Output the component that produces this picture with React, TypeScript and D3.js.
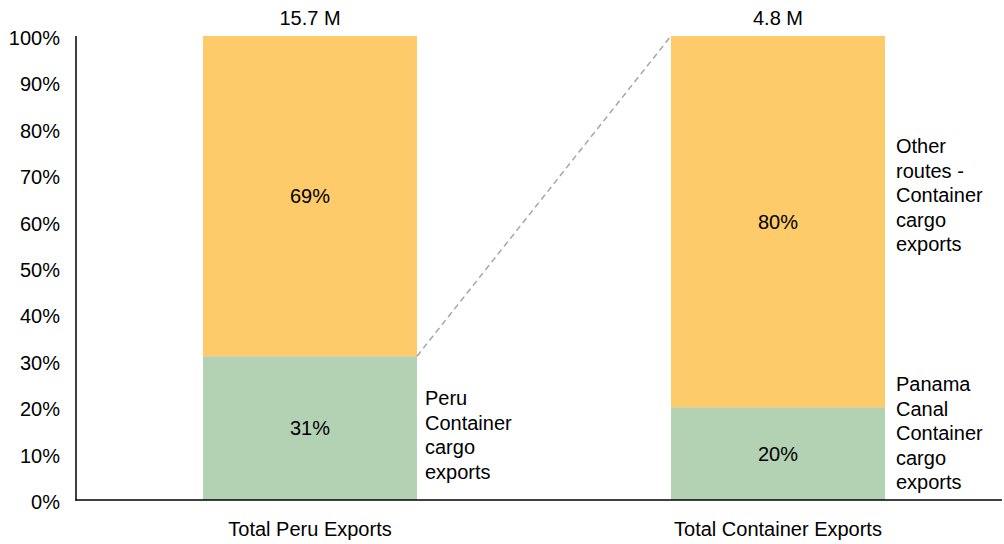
import React from "react";
import * as d3 from "d3";

const categories = ["Total Peru Exports", "Total Container Exports"];
const totals = ["15.7 M", "4.8 M"];
const lowerValues = [31, 20];
const upperValues = [69, 80];
const yTicks = [0, 10, 20, 30, 40, 50, 60, 70, 80, 90, 100];
const lowerLabels = [["Peru", "Container", "cargo", "exports"], ["Panama", "Canal", "Container", "cargo", "exports"]];
const upperLabels = [[], ["Other", "routes -", "Container", "cargo", "exports"]];

const W = 1004, H = 544;
const FONT = "'Liberation Sans', Arial, sans-serif";
const ORANGE = "#FECB6A";
const GREEN = "#B3D1B3";
const FS = 20;

export default function App() {
  const x = d3.scaleBand<string>().domain(categories).range([76, 1012]).paddingInner(0.5427).paddingOuter(0.27135);
  const y = d3.scaleLinear().domain([0, 100]).range([500, 36]);
  const bw = x.bandwidth();
  const lh = 24.5;
  return (
    <svg width={W} height={H} style={{ position: "absolute", left: 0, top: 0, fontFamily: FONT }}>
      {categories.map((c, i) => {
        const x0 = x(c)!;
        const cx = x0 + bw / 2;
        const lo = lowerValues[i];
        const up = upperValues[i];
        return (
          <g key={c}>
            <rect x={x0} y={y(lo)} width={bw} height={y(0) - y(lo)} fill={GREEN} />
            <rect x={x0} y={y(lo + up)} width={bw} height={y(lo) - y(lo + up)} fill={ORANGE} />
            <text x={cx} y={y(lo / 2)} dy="0.35em" textAnchor="middle" fontSize={FS}>{lo}%</text>
            <text x={cx} y={y(lo + up / 2)} dy="0.35em" textAnchor="middle" fontSize={FS}>{up}%</text>
            <text x={cx} y={18} dy="0.35em" textAnchor="middle" fontSize={FS}>{totals[i]}</text>
            <text x={cx} y={529} dy="0.35em" textAnchor="middle" fontSize={FS}>{c}</text>
            {lowerLabels[i].map((t, k) => (
              <text key={"l" + k} x={x0 + bw + 8 + (i === 1 ? 3 : 0)} y={(i === 0 ? 398 : 384) + k * lh} dy="0.35em" fontSize={FS}>{t}</text>
            ))}
            {upperLabels[i].map((t, k) => (
              <text key={"u" + k} x={x0 + bw + 11} y={146 + k * lh} dy="0.35em" fontSize={FS}>{t}</text>
            ))}
          </g>
        );
      })}
      <line x1={x(categories[0])! + bw} y1={y(lowerValues[0])} x2={x(categories[1])!} y2={y(100)} stroke="#A6A6A6" strokeWidth={1.5} strokeDasharray="6,4" />
      <line x1={76} y1={36} x2={76} y2={500.5} stroke="#000" strokeWidth={1.5} />
      <line x1={75.25} y1={500} x2={1002} y2={500} stroke="#000" strokeWidth={1.5} />
      {yTicks.map(t => (
        <text key={t} x={60} y={y(t) + 2} dy="0.35em" textAnchor="end" fontSize={FS}>{t}%</text>
      ))}
    </svg>
  );
}
